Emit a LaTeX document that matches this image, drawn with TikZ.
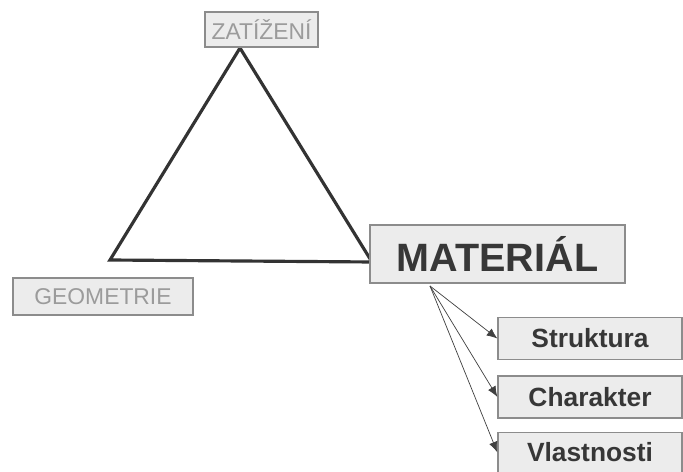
\documentclass[tikz,border=0pt]{standalone}
\usepackage{fontspec}
\setmainfont{Liberation Sans}
\usetikzlibrary{arrows.meta, positioning, calc}
\definecolor{boxfill}{RGB}{236,236,236}
\definecolor{boxline}{RGB}{140,140,140}
\definecolor{paletext}{RGB}{155,155,155}
\definecolor{darktext}{RGB}{55,55,55}
\tikzset{
  tag/.style={
    rectangle, draw=boxline, fill=boxfill, line width=0.8pt,
    inner sep=0pt, align=center
  },
  corner/.style={
    tag, text=paletext, font=\fontsize{13}{15}\selectfont
  },
  prop/.style={
    tag, text=darktext, font=\fontsize{15}{17}\selectfont\bfseries,
    minimum width=3.68cm, minimum height=0.84cm
  },
  edge/.style={line width=1.8pt, draw=black!80, line join=miter},
  arrow/.style={-{Latex[length=6pt,width=5pt]}, thin, draw=black!75}
}
\begin{document}
\begin{tikzpicture}[x=0.02cm, y=-0.02cm]
\useasboundingbox[fill=white] (0,0) rectangle (683,472);

% Triangle corners
\coordinate (apex) at (240,48);
\coordinate (lft) at (110,260);
\coordinate (rgt) at (372,262);
\draw[edge] (apex) -- (lft) -- (rgt) -- cycle;

% Corner labels
\node[corner, minimum width=2.26cm, minimum height=0.7cm]
  (zat) at (261.5,29.5) {ZATÍŽENÍ};
\node[corner, minimum width=3.6cm, minimum height=0.74cm]
  (geo) at (103,296.5) {GEOMETRIE};
\node[tag, text=darktext, font=\fontsize{22.5}{26}\selectfont\bfseries,
      minimum width=5.1cm, minimum height=1.16cm]
  (mat) at (497.5,254) {MATERIÁL};

% Properties
\node[prop] (str) at (590,338.5) {Struktura};
\node[prop, below=0.3cm of str] (cha) {Charakter};
\node[prop, minimum height=0.8cm, below=0.26cm of cha] (vla) {Vlastnosti};

% Arrows
\coordinate (fan) at (430,286);
\draw[arrow] (fan) -- (str.west);
\draw[arrow] (fan) -- (cha.west);
\draw[arrow] (fan) -- (vla.west);

\end{tikzpicture}
\end{document}
